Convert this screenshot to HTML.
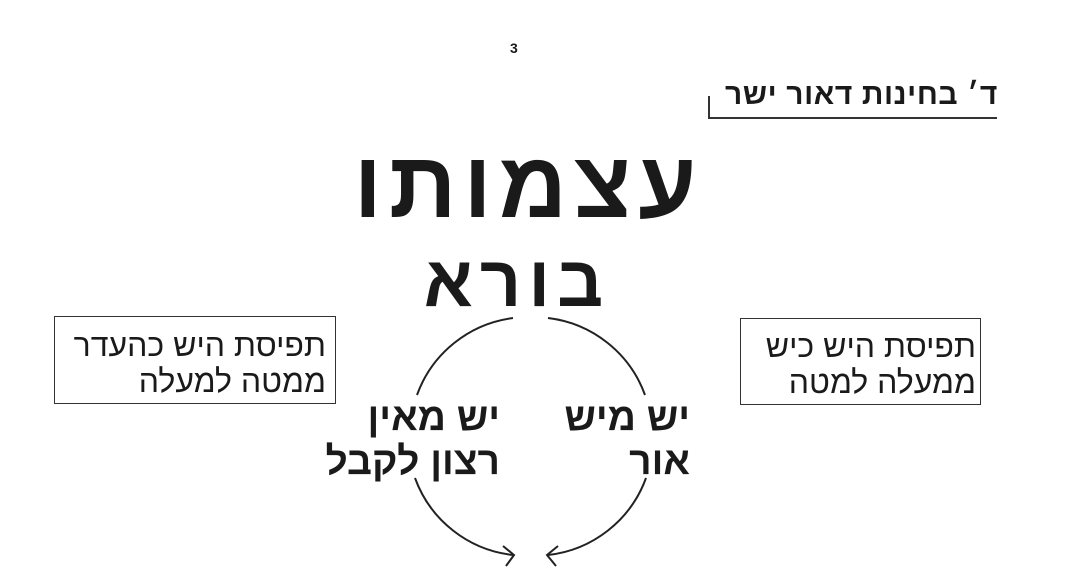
<!DOCTYPE html>
<html><head><meta charset="utf-8"><style>
body{margin:0;width:1068px;height:580px;background:#fff;overflow:hidden;position:relative;font-family:"Liberation Sans","DejaVu Sans",sans-serif;color:#1a1a1a}
.a{position:absolute;white-space:nowrap;direction:rtl}
.box{position:absolute;border:1.5px solid #333;box-sizing:border-box}
</style></head><body>
<div class="a" style="left:510px;top:40px;font-size:14px;font-weight:bold;direction:ltr">3</div>
<div class="a" style="right:70px;top:78px;font-size:30px;font-weight:bold;line-height:34px;letter-spacing:0.6px">ד׳ בחינות דאור ישר</div>
<div style="position:absolute;left:708px;top:117px;width:289px;height:1.5px;background:#333"></div>
<div style="position:absolute;left:708px;top:96px;width:1.5px;height:22px;background:#333"></div>
<div class="a" style="left:340px;width:370px;text-align:center;top:138px;font-size:94px;font-weight:bold;line-height:94px;letter-spacing:7px;text-indent:-7px">עצמותו</div>
<div class="a" style="left:367px;width:300px;text-align:center;top:246px;font-size:72px;font-weight:bold;line-height:72px;letter-spacing:7px">בורא</div>
<div class="box" style="left:54px;top:316px;width:282px;height:88px"></div>
<div class="a" style="right:742px;top:327px;font-size:32px;line-height:36px;text-align:right">תפיסת היש כהעדר<br>ממטה למעלה</div>
<div class="box" style="left:740px;top:318px;width:241px;height:87px"></div>
<div class="a" style="right:92px;top:328px;font-size:32px;line-height:36px;text-align:right">תפיסת היש כיש<br>ממעלה למטה</div>
<div class="a" style="right:568px;top:396px;font-size:39px;font-weight:bold;line-height:44px;text-align:right">יש מאין<br>רצון לקבל</div>
<div class="a" style="right:378px;top:396px;font-size:39px;font-weight:bold;line-height:44px;text-align:right">יש מיש<br>אור</div>
<svg width="1068" height="580" style="position:absolute;left:0;top:0" fill="none" stroke="#222" stroke-width="2">
<path d="M513 318 A118 118 0 0 0 417 395"/>
<path d="M415 478 A118 118 0 0 0 513 555"/>
<path d="M548 318 A118 118 0 0 1 645 395"/>
<path d="M646 478 A118 118 0 0 1 548 555"/>
<path d="M503 546 L514 555 L506 566"/>
<path d="M558 546 L547 555 L556 566"/>
</svg>
</body></html>
